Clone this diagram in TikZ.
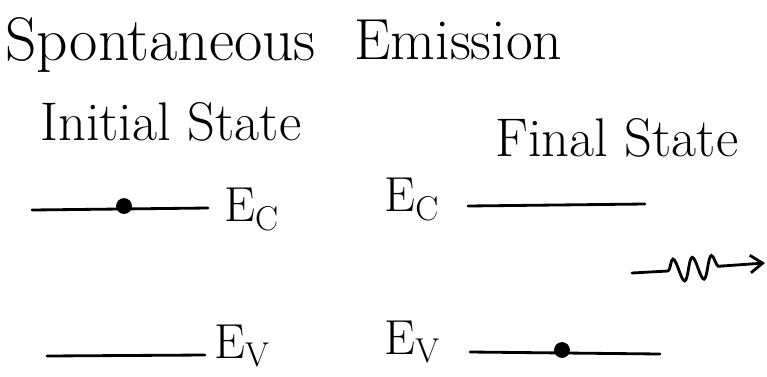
\documentclass[tikz,border=0pt]{standalone}
\usetikzlibrary{decorations.pathmorphing,arrows.meta}
\begin{document}
\begin{tikzpicture}[x=0.02cm,y=-0.02cm,
  lvl/.style={line width=1.6pt,line cap=round},
  txt/.style={font=\fontsize{31}{36}\selectfont,inner sep=0pt},
  lab/.style={font=\fontsize{28}{32}\selectfont,inner sep=0pt},
  elec/.style={circle,fill=black,minimum size=9pt,inner sep=0pt}]
\useasboundingbox (0,0) rectangle (767,376);
% titles
\node[font=\fontsize{35}{40}\selectfont,inner sep=0pt,anchor=west] (t1) at (5,45) {Spontaneous};
\node[font=\fontsize{33}{40}\selectfont,inner sep=0pt,anchor=west] (t2) at (354,40) {Emission};
\node[txt,anchor=west] (is) at (40,122) {Initial State};
\node[txt,anchor=west] (fs) at (495,138) {Final State};
% initial state
\coordinate (ic1) at (32,210);
\coordinate (ic2) at (208,208);
\draw[lvl] (ic1) -- (ic2);
\node[elec] (e1) at (124,206) {};
\node[lab,anchor=west] (ecl) at (224,210) {E\textsubscript{C}};
\coordinate (iv1) at (47,356);
\coordinate (iv2) at (205,355);
\draw[lvl] (iv1) -- (iv2);
\node[lab,anchor=west] (evl) at (214,346) {E\textsubscript{V}};
% final state
\node[lab,anchor=west] (ecr) at (384,200) {E\textsubscript{C}};
\coordinate (fc1) at (468,206);
\coordinate (fc2) at (645,204);
\draw[lvl] (fc1) -- (fc2);
\node[lab,anchor=west] (evr) at (384,342) {E\textsubscript{V}};
\coordinate (fv1) at (470,352);
\coordinate (fv2) at (660,354);
\draw[lvl] (fv1) -- (fv2);
\node[elec] (e2) at (562,350) {};
% photon
\coordinate (p0) at (632,273);
\coordinate (p1) at (668,271);
\coordinate (p2) at (722,266);
\coordinate (p3) at (765,263);
\draw[lvl] (p0) -- (p1);
\draw[lvl,decorate,decoration={snake,amplitude=6.5pt,segment length=11pt}] (p1) -- (p2);
\draw[lvl,-{Straight Barb[length=7pt,width=10pt]}] (p2) -- (p3);
\end{tikzpicture}
\end{document}
